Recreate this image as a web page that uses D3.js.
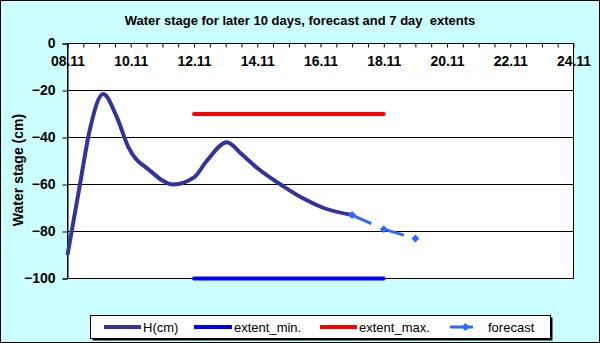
<!DOCTYPE html>
<html>
<head>
<meta charset="utf-8">
<script src="https://cdn.jsdelivr.net/npm/d3@7"></script>
<style>
  body { margin: 0; background: #fff; }
  svg text { font-family: Arial, "Liberation Sans", sans-serif; }
</style>
</head>
<body>
<div id="chart"></div>
<script>
// observed water stage (day of November, cm)
const hDays   = [8.0, 8.4, 8.7, 9.13, 9.55, 9.92, 10.6, 11.35, 12.0, 12.4, 13.04, 13.5, 14.0, 14.85, 15.46, 16.1, 17.0];
const hValues = [-90, -59.5, -37, -21.5, -31, -44, -54, -60, -57, -50, -42, -47, -53, -61, -66, -70, -73];

// forecast
const forecastDays   = [17, 18, 19];
const forecastValues = [-73, -79, -83];

// 7 day extents
const extentDays = [12, 13, 14, 15, 16, 17, 18];
const extentMin  = [-100, -100, -100, -100, -100, -100, -100];
const extentMax  = [-30, -30, -30, -30, -30, -30, -30];

const labelDays = [8, 10, 12, 14, 16, 18, 20, 22, 24];
const yTicks = [0, -20, -40, -60, -80, -100];
const seriesNames = ["H(cm)", "extent_min.", "extent_max.", "forecast"];
const seriesColors = ["#333399", "#0000ff", "#ff0000", "#3366ff"];

function draw() {
    const W = 600, H = 343;
    const svg = d3.select('#chart').append('svg')
        .attr('width', W).attr('height', H);

    // chart background
    svg.append('rect')
        .attr('x', 0.5).attr('y', 0.5)
        .attr('width', W - 1).attr('height', H - 1)
        .attr('fill', '#ccffff').attr('stroke', '#000');

    const xScale = d3.scaleLinear().domain([8, 24]).range([67.5, 573.5]);
    const yScale = d3.scaleLinear().domain([0, -100]).range([43.5, 278.5]);

    // plot area
    svg.append('rect')
        .attr('x', xScale(8)).attr('y', yScale(0))
        .attr('width', xScale(24) - xScale(8))
        .attr('height', yScale(-100) - yScale(0))
        .attr('fill', '#fff').attr('stroke', '#000');

    // gridlines
    svg.selectAll('.grid')
        .data(yTicks.slice(1))
        .join('line')
        .attr('class', 'grid')
        .attr('x1', xScale(8)).attr('x2', xScale(24))
        .attr('y1', d => yScale(d)).attr('y2', d => yScale(d))
        .attr('stroke', '#000');

    // y axis
    const yAxis = d3.axisLeft(yScale).tickValues(yTicks).tickSize(5).tickPadding(7);
    const gy = svg.append('g')
        .attr('transform', `translate(${xScale(8)},0)`)
        .call(yAxis);
    gy.select('.domain').attr('stroke', '#000');
    gy.selectAll('text').attr('font-size', 14).attr('font-weight', 'bold')
        .attr('fill', '#000').attr('font-family', 'Arial, "Liberation Sans", sans-serif');

    // x axis at top (value 0): half-day ticks, labels every 2 days
    const halfDays = d3.range(8, 24.01, 0.5);
    const xMinor = d3.axisBottom(xScale).tickValues(halfDays).tickSize(4).tickFormat('');
    const gx = svg.append('g')
        .attr('transform', `translate(0,${yScale(0)})`)
        .call(xMinor);
    gx.select('.domain').remove();

    const xLabels = d3.axisBottom(xScale).tickValues(labelDays).tickSize(0).tickPadding(13)
        .tickFormat(d => d3.format('02')(d) + '.11');
    const gxl = svg.append('g')
        .attr('transform', `translate(0,${yScale(0)})`)
        .call(xLabels);
    gxl.select('.domain').remove();
    gxl.selectAll('text').attr('font-size', 14).attr('font-weight', 'bold')
        .attr('fill', '#000').attr('font-family', 'Arial, "Liberation Sans", sans-serif');

    // series
    const hLine = d3.line()
        .x((d, i) => xScale(hDays[i]))
        .y(d => yScale(d))
        .curve(d3.curveMonotoneX);

    const extLine = d3.line()
        .x((d, i) => xScale(extentDays[i]))
        .y(d => yScale(d));

    svg.append('path')
        .attr('d', extLine(extentMin))
        .attr('fill', 'none').attr('stroke', seriesColors[1])
        .attr('stroke-width', 4).attr('stroke-linecap', 'round');

    svg.append('path')
        .attr('d', extLine(extentMax))
        .attr('fill', 'none').attr('stroke', seriesColors[2])
        .attr('stroke-width', 4).attr('stroke-linecap', 'round');

    svg.append('path')
        .attr('d', hLine(hValues))
        .attr('fill', 'none').attr('stroke', seriesColors[0])
        .attr('stroke-width', 4).attr('stroke-linejoin', 'round');

    // forecast, dashed segments restarting at each point
    const fc = forecastValues.map((v, i) => [xScale(forecastDays[i]), yScale(v)]);
    for (let i = 0; i < fc.length - 1; i++) {
        svg.append('line')
            .attr('x1', fc[i][0]).attr('y1', fc[i][1])
            .attr('x2', fc[i + 1][0]).attr('y2', fc[i + 1][1])
            .attr('stroke', seriesColors[3]).attr('stroke-width', 3)
            .attr('stroke-dasharray', '21,13');
    }
    const diamond = d3.symbol().type(d3.symbolDiamond2).size(40);
    svg.selectAll('.fpoint')
        .data(fc)
        .join('path')
        .attr('class', 'fpoint')
        .attr('d', diamond)
        .attr('transform', d => `translate(${d[0]},${d[1]})`)
        .attr('fill', seriesColors[3]);

    // title
    svg.append('text')
        .attr('x', 300).attr('y', 25)
        .attr('text-anchor', 'middle')
        .attr('font-size', 13).attr('font-weight', 'bold')
        .text('Water stage for later 10 days, forecast and 7 day  extents')
        .style('white-space', 'pre');

    // y axis title
    svg.append('text')
        .attr('transform', 'rotate(-90)')
        .attr('x', -170).attr('y', 23)
        .attr('text-anchor', 'middle')
        .attr('font-size', 14).attr('font-weight', 'bold')
        .text('Water stage (cm)');

    addLegend(svg, diamond);
}

function addLegend(svg, diamond) {
    const lx = 90.5, ly = 315.5, lw = 460, lh = 23;
    svg.append('rect')
        .attr('x', lx + 2).attr('y', ly + 2)
        .attr('width', lw).attr('height', lh)
        .attr('fill', '#000');
    svg.append('rect')
        .attr('x', lx).attr('y', ly)
        .attr('width', lw).attr('height', lh)
        .attr('fill', '#fff').attr('stroke', '#000');

    const lineStart = [104, 194, 320, 450];
    const lineEnd = [141, 232, 357, 473];
    const textStart = [143, 234, 359, 488];
    const cy = 327;

    seriesNames.forEach((name, i) => {
        svg.append('line')
            .attr('x1', lineStart[i]).attr('x2', lineEnd[i])
            .attr('y1', cy).attr('y2', cy)
            .attr('stroke', seriesColors[i])
            .attr('stroke-width', i == 3 ? 3 : 4);
        if (i == 3) {
            svg.append('path')
                .attr('d', diamond)
                .attr('transform', `translate(${(lineStart[i] + lineEnd[i]) / 2 + 4},${cy})`)
                .attr('fill', seriesColors[i]);
        }
        svg.append('text')
            .attr('x', textStart[i]).attr('y', cy + 5)
            .attr('font-size', 13)
            .text(name);
    });
}

window.addEventListener('load', draw);
</script>
</body>
</html>
